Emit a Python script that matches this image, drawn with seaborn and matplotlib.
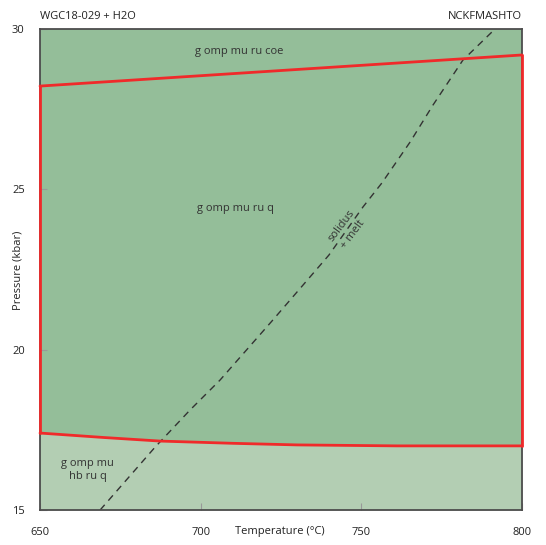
import matplotlib
matplotlib.use('Agg')
import matplotlib.pyplot as plt
import seaborn as sns
import pandas as pd

# field boundaries (T in degC, P in kbar)
coe_T = [650, 800]
coe_P = [28.22, 29.19]
hb_T = [650, 670, 687.3, 710, 730, 761, 800]
hb_P = [17.40, 17.26, 17.15, 17.08, 17.03, 17.00, 17.00]
solidus_T = [668.7, 685.8, 696.7, 706.0, 722.5, 739.9, 750.5, 756.4, 765.2, 772.3, 781.6, 791.6]
solidus_P = [15.0, 16.96, 18.12, 19.05, 20.93, 22.95, 24.45, 25.20, 26.48, 27.63, 29.03, 30.0]

# field labels: text, T, P
labels = ['g omp mu ru coe', 'g omp mu ru q', 'g omp mu\nhb ru q']
label_T = [711.9, 710.7, 664.9]
label_P = [29.3, 24.4, 16.25]

x_ticks = [650, 700, 750, 800]
y_ticks = [15, 20, 25, 30]

dark_green = '#94be99'
light_green = '#b3ceb3'
red = '#f02a2a'
fs = 8

sns.set_theme(style='ticks')
plt.rcParams['font.family'] = ['Open Sans', 'DejaVu Sans']

fig = plt.figure(figsize=(5.46, 5.45), dpi=100)
ax = fig.add_axes([0.0733, 0.0642, 0.8828, 0.8826])
ax.set_xlim(650, 800)
ax.set_ylim(15, 30)
ax.set_facecolor(dark_green)

# lower field (hb stable) in lighter green
ax.fill_between(hb_T, 15, hb_P, color=light_green, lw=0, zorder=0.5)

# red outline of the q field
coe = pd.DataFrame({'T': coe_T, 'P': coe_P})
hb = pd.DataFrame({'T': hb_T, 'P': hb_P})
left_edge = pd.DataFrame({'T': [coe_T[0], hb_T[0]], 'P': [coe_P[0], hb_P[0]]})
right_edge = pd.DataFrame({'T': [coe_T[-1], hb_T[-1]], 'P': [coe_P[-1], hb_P[-1]]})
for edge in [coe, hb, left_edge, right_edge]:
    sns.lineplot(data=edge, x='T', y='P', color=red, lw=2, sort=False,
                 estimator=None, ax=ax)
for ln in ax.lines:
    ln.set_clip_on(False)
    ln.set_zorder(5)

# solidus
sol = pd.DataFrame({'T': solidus_T, 'P': solidus_P})
sns.lineplot(data=sol, x='T', y='P', color='#333333', lw=1, sort=False,
             estimator=None, ax=ax)
ax.lines[-1].set_dashes([5, 4])

for txt, t, p in zip(labels, label_T, label_P):
    ax.text(t, p, txt, ha='center', va='center', fontsize=fs, color='#333333',
            linespacing=1.3)
ax.text(745.5, 23.73, 'solidus\n+ melt', ha='center', va='center', fontsize=fs,
        color='#333333', rotation=53, rotation_mode='anchor', linespacing=1.45)

ax.text(0, 1.025, 'WGC18-029 + H2O', transform=ax.transAxes, ha='left', va='center',
        fontsize=fs, color='#222222')
ax.text(1, 1.025, 'NCKFMASHTO', transform=ax.transAxes, ha='right', va='center',
        fontsize=fs, color='#222222')

ax.set_xticks(x_ticks)
ax.set_yticks(y_ticks)
ax.tick_params(axis='both', direction='in', length=5, width=0.8, color='#999999',
               labelsize=fs, labelcolor='#222222')
ax.tick_params(axis='x', pad=12)
ax.tick_params(axis='y', pad=11)

ax.set_xlabel('Temperature (°C)', fontsize=fs, color='#222222')
ax.xaxis.set_label_coords(0.498, -0.0437)
ax.xaxis.label.set_va('center')
ax.set_ylabel('Pressure (kbar)', fontsize=fs, color='#222222')
ax.yaxis.set_label_coords(-0.046, 0.499)
ax.yaxis.label.set_va('center')

for s in ax.spines.values():
    s.set_color('#4d4d4d')
    s.set_linewidth(1.3)

fig.savefig('out.png', dpi=100)
